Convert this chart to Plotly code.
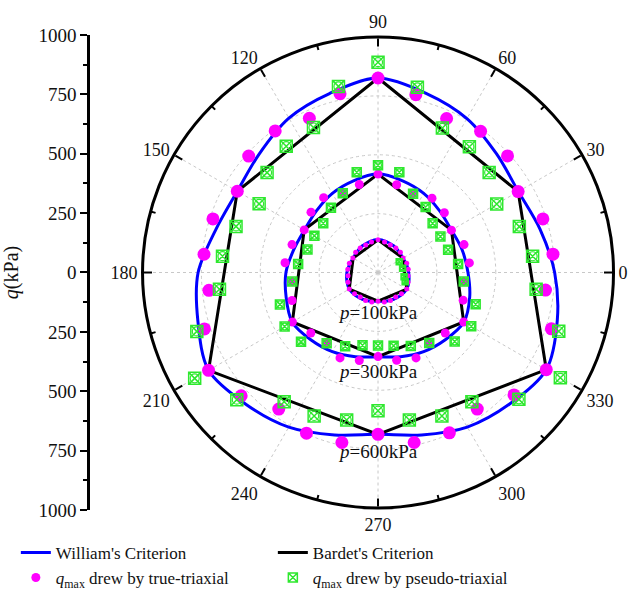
import plotly.graph_objects as go

# ---------------- data ----------------
curve_angles = list(range(0, 361, 15))
william_600 = [750, 712, 688, 712, 755, 788, 826, 788, 757, 713, 690, 712, 764, 792, 831,
               792, 758, 714, 687, 714, 758, 790, 825, 788, 750]
william_300 = [382, 370, 360, 370, 388, 403, 419, 403, 388, 370, 361, 371, 391, 404, 421,
               404, 388, 370, 358, 370, 388, 404, 421, 403, 382]
william_100 = [130, 126, 122, 126, 131, 136, 140, 136, 131, 126, 122, 126, 132, 137, 141,
               137, 131, 126, 122, 126, 131, 137, 141, 136, 130]

bardet_angles = [30, 90, 150, 210, 270, 330, 30]
bardet_600 = [687, 826, 690, 831, 687, 825, 687]
bardet_300 = [360, 418, 362, 420, 357, 420, 360]
bardet_100 = [122, 139, 122, 141, 122, 141, 122]

pt_angles = list(range(6, 360, 12))
true_600 = [747, 736, 687, 740, 741, 716, 772, 826, 776, 717, 743, 739, 690, 737, 743,
            722, 775, 831, 782, 717, 747, 738, 687, 738, 745, 717, 777, 825, 774, 715]
pseudo_600 = [660, 631, 582, 635, 660, 672, 804, 893, 808, 674, 663, 634, 583, 634, 664,
              677, 809, 899, 807, 678, 667, 640, 587, 640, 667, 678, 805, 894, 807, 675]
true_300 = [390, 384, 360, 379, 390, 366, 381, 418, 382, 369, 393, 383, 362, 384, 397,
            366, 384, 420, 384, 371, 397, 382, 357, 381, 397, 371, 384, 420, 380, 366]
pseudo_300 = [342, 313, 306, 312, 344, 366, 435, 456, 435, 368, 340, 313, 312, 315, 341,
              366, 438, 458, 440, 371, 343, 316, 310, 318, 342, 370, 438, 457, 436, 366]
true_100 = [129, 128, 123, 128, 129, 128, 133, 139, 133, 128, 129, 128, 123, 128, 129,
            128, 134, 141, 134, 128, 130, 128, 122, 128, 130, 128, 134, 141, 134, 128]
pseudo100_angles = [27, 10, 351, 341]
pseudo_100 = [101, 106, 112, 122]

major_ticks = list(range(0, 360, 30))
minor_ticks = list(range(15, 360, 30))
q_ticks = list(range(-1000, 1001, 250))

BLUE = "#0000ff"
MAG = "#ff00ff"
GRN = "#2ee82e"
FONT = "Liberation Serif"

fig = go.Figure()

# criteria lines
for r, show in [(william_600, False), (william_300, True), (william_100, False)]:
    fig.add_trace(go.Scatterpolar(r=r, theta=curve_angles, mode="lines",
                                  line=dict(color=BLUE, width=3, shape="spline", smoothing=0.9),
                                  name="William's Criterion", legendgroup="w",
                                  showlegend=show, legendrank=1))
for r, show in [(bardet_600, False), (bardet_300, True), (bardet_100, False)]:
    fig.add_trace(go.Scatterpolar(r=r, theta=bardet_angles, mode="lines",
                                  line=dict(color="black", width=3),
                                  name="Bardet's Criterion", legendgroup="b",
                                  showlegend=show, legendrank=2))

# true-triaxial points
for r, size, show in [(true_600, 13, False), (true_300, 9, True), (true_100, 5, False)]:
    fig.add_trace(go.Scatterpolar(r=r, theta=pt_angles, mode="markers",
                                  marker=dict(color=MAG, size=size, symbol="circle"),
                                  name="<i>q</i><sub>max</sub> drew by true-triaxial",
                                  legendgroup="t", showlegend=show, legendrank=3))

# pseudo-triaxial points
for r, th, size, show in [(pseudo_600, pt_angles, 12, False), (pseudo_300, pt_angles, 9, True),
                          (pseudo_100, pseudo100_angles, 6, False)]:
    fig.add_trace(go.Scatterpolar(r=r, theta=th, mode="markers",
                                  marker=dict(color=GRN, size=size, symbol="square-x-open",
                                              line=dict(color=GRN, width=1.5)),
                                  name="<i>q</i><sub>max</sub> drew by pseudo-triaxial",
                                  legendgroup="p", showlegend=show, legendrank=4))
    fig.add_trace(go.Scatterpolar(r=r, theta=th, mode="markers",
                                  marker=dict(color=GRN, size=size * 0.75, symbol="circle-open",
                                              line=dict(color=GRN, width=1.2)),
                                  legendgroup="p", showlegend=False, hoverinfo="skip"))

# minor angular ticks (inside)
tr, tt = [], []
for a in minor_ticks:
    tr += [1000, 978, None]
    tt += [a, a, None]
fig.add_trace(go.Scatterpolar(r=tr, theta=tt, mode="lines", line=dict(color="black", width=2),
                              showlegend=False, hoverinfo="skip"))

# dummy trace for the left q axis
fig.add_trace(go.Scatter(x=[], y=[], xaxis="x", yaxis="y", showlegend=False, hoverinfo="skip"))

ann_font = dict(family=FONT, size=19, color="#111")
fig.update_layout(
    width=634, height=599,
    margin=dict(l=0, r=0, t=0, b=0, autoexpand=False),
    paper_bgcolor="white", plot_bgcolor="white",
    font=dict(family=FONT, size=17, color="#111"),
    polar=dict(
        domain=dict(x=[0.2248, 0.9677], y=[0.1519, 0.9382]),
        bgcolor="white",
        angularaxis=dict(rotation=0, direction="counterclockwise",
                         tickmode="array", tickvals=major_ticks,
                         ticktext=[str(a) for a in major_ticks],
                         ticks="inside", ticklen=8, tickwidth=2, tickcolor="black",
                         showline=True, linecolor="black", linewidth=3,
                         showgrid=True, gridcolor="#c8c8c8", griddash="dot", gridwidth=1,
                         tickfont=dict(family=FONT, size=18, color="#111")),
        radialaxis=dict(range=[0, 1000], tickvals=[250, 500, 750], showticklabels=False,
                        ticks="", showline=False, showgrid=True, gridcolor="#c8c8c8",
                        griddash="dot", gridwidth=1),
    ),
    xaxis=dict(domain=[0.142, 0.2], visible=False, range=[0, 1], automargin=False),
    yaxis=dict(domain=[0.1486, 0.9416], range=[-1000, 1000], anchor="x", automargin=False,
               tickmode="array", tickvals=q_ticks, ticktext=[str(abs(v)) for v in q_ticks],
               ticks="outside", ticklen=7, tickwidth=2, tickcolor="black",
               showline=True, linecolor="black", linewidth=2.5,
               showgrid=False, zeroline=False,
               minor=dict(dtick=125, tick0=0, ticks="outside", ticklen=4, tickwidth=2,
                          tickcolor="black", showgrid=False),
               tickfont=dict(family=FONT, size=19, color="#111"),
               title=dict(text="<i>q</i>(kPa)", font=dict(family=FONT, size=20, color="#111"),
                          standoff=15)),
    legend=dict(orientation="h", x=0.025, y=0.107, xanchor="left", yanchor="top",
                entrywidth=212, font=dict(family=FONT, size=17, color="#111"),
                bgcolor="rgba(0,0,0,0)", tracegroupgap=0),
    annotations=[
        dict(text="<i>p</i>=100kPa", x=0.5955, y=0.4775, xref="paper", yref="paper",
             xanchor="center", yanchor="middle", showarrow=False, font=ann_font),
        dict(text="<i>p</i>=300kPa", x=0.5955, y=0.379, xref="paper", yref="paper",
             xanchor="center", yanchor="middle", showarrow=False, font=ann_font),
        dict(text="<i>p</i>=600kPa", x=0.5955, y=0.246, xref="paper", yref="paper",
             xanchor="center", yanchor="middle", showarrow=False, font=ann_font),
    ],
)

fig.write_html("out.html", config={"displayModeBar": False},
               post_script="document.body.style.margin='0';")
